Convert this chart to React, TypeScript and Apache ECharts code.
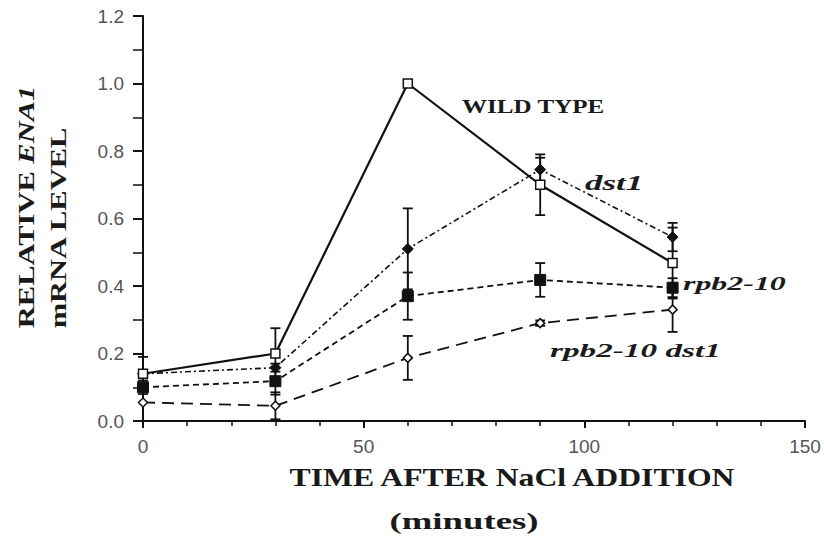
import React, { useEffect, useRef } from "react";
import * as echarts from "echarts";

const times = [0, 30, 60, 90, 120];
const wildType = [0.14, 0.2, 1.0, 0.7, 0.468];
const wildTypeErr = [0.05, 0.075, 0, 0.09, 0.105];
const dst1 = [0.14, 0.158, 0.51, 0.745, 0.545];
const dst1Err = [0.01, 0.012, 0.12, 0.035, 0.042];
const rpb210 = [0.1, 0.118, 0.37, 0.418, 0.395];
const rpb210Err = [0.02, 0.04, 0.07, 0.05, 0.028];
const rpb210dst1 = [0.055, 0.045, 0.187, 0.29, 0.33];
const rpb210dst1Err = [0.055, 0.04, 0.065, 0.008, 0.066];

const SERIF = "'Liberation Serif', 'Times New Roman', serif";
const SANS = "'Liberation Sans', Arial, sans-serif";

function errSeries(name: string, vals: number[], errs: number[]) {
  const data = times.map((t, i) => [t, vals[i] - errs[i], vals[i] + errs[i]]);
  return {
    name: name + " err",
    type: "custom",
    z: 1,
    silent: true,
    data: data.filter((d) => d[2] - d[1] > 0.0001),
    renderItem: (_params: any, api: any) => {
      const x = api.value(0);
      const lo = api.coord([x, api.value(1)]);
      const hi = api.coord([x, api.value(2)]);
      const w = 5;
      const st = { stroke: "#111", lineWidth: 1.8 };
      return {
        type: "group",
        children: [
          { type: "line", shape: { x1: lo[0], y1: lo[1], x2: hi[0], y2: hi[1] }, style: st },
          { type: "line", shape: { x1: lo[0] - w, y1: lo[1], x2: lo[0] + w, y2: lo[1] }, style: st },
          { type: "line", shape: { x1: hi[0] - w, y1: hi[1], x2: hi[0] + w, y2: hi[1] }, style: st },
        ],
      };
    },
  };
}

function lineSeries(name: string, vals: number[], dash: any, symbol: string, size: number, open: boolean, width: number) {
  return {
    name,
    type: "line",
    z: 3,
    data: times.map((t, i) => [t, vals[i]]),
    symbol,
    symbolSize: size,
    showSymbol: true,
    lineStyle: { color: "#111", width, type: dash },
    itemStyle: open
      ? { color: "#fff", borderColor: "#111", borderWidth: 1.5 }
      : { color: "#111", borderColor: "#111", borderWidth: 1 },
  };
}

function label(text: string, x: number, y: number, scaleX: number, font: string) {
  return {
    type: "text",
    x,
    y,
    scaleX,
    style: { text, font, fill: "#1a1a1a", textAlign: "left", textVerticalAlign: "middle" },
  };
}

export default function App() {
  const ref = useRef<HTMLDivElement>(null);
  useEffect(() => {
    document.body.style.margin = "0";
    const chart = echarts.init(ref.current!, null, { renderer: "svg" });
    chart.setOption({
      animation: false,
      backgroundColor: "#fff",
      grid: { left: 143, right: 19, top: 16, bottom: 115 },
      xAxis: {
        type: "value",
        min: 0,
        max: 150,
        interval: 50,
        axisLine: { show: true, onZero: false, lineStyle: { color: "#111", width: 2 } },
        axisTick: { show: true, length: 7, lineStyle: { color: "#111", width: 2 } },
        minorTick: { show: true, splitNumber: 5, length: 5, lineStyle: { color: "#111", width: 1.5 } },
        splitLine: { show: false },
        axisLabel: { color: "#555", fontFamily: SANS, fontSize: 19, margin: 16 },
      },
      yAxis: {
        type: "value",
        min: 0,
        max: 1.2,
        interval: 0.2,
        axisLine: { show: true, lineStyle: { color: "#111", width: 2 } },
        axisTick: { show: true, length: 10, lineStyle: { color: "#111", width: 2 } },
        minorTick: { show: true, splitNumber: 2, length: 10, lineStyle: { color: "#111", width: 1.5 } },
        splitLine: { show: false },
        axisLabel: {
          color: "#555",
          fontFamily: SANS,
          fontSize: 19,
          margin: 19,
          formatter: (v: number) => v.toFixed(1),
        },
      },
      series: [
        errSeries("WILD TYPE", wildType, wildTypeErr),
        errSeries("dst1", dst1, dst1Err),
        errSeries("rpb2-10", rpb210, rpb210Err),
        errSeries("rpb2-10 dst1", rpb210dst1, rpb210dst1Err),
        lineSeries("rpb2-10 dst1", rpb210dst1, [12, 7], "diamond", 9, true, 1.8),
        lineSeries("rpb2-10", rpb210, [6, 4], "rect", 11, false, 1.8),
        lineSeries("dst1", dst1, [6, 3, 2, 3], "diamond", 11, false, 1.6),
        lineSeries("WILD TYPE", wildType, "solid", "rect", 9, true, 2.2),
      ],
      graphic: [
        label("WILD TYPE", 462, 107, 1.32, `bold 19px ${SERIF}`),
        label("dst1", 585, 183, 1.75, `italic bold 20px ${SERIF}`),
        label("rpb2-10", 683, 284, 1.68, `italic bold 19px ${SERIF}`),
        label("rpb2-10 dst1", 550, 351, 1.75, `italic bold 19px ${SERIF}`),
        {
          type: "text",
          x: 26,
          y: 207,
          rotation: Math.PI / 2,
          scaleX: 1.27,
          style: {
            text: "{a|RELATIVE }{b|ENA1}",
            fill: "#1a1a1a",
            textAlign: "center",
            textVerticalAlign: "middle",
            rich: {
              a: { font: `bold 24px ${SERIF}`, fill: "#1a1a1a" },
              b: { font: `italic bold 24px ${SERIF}`, fill: "#1a1a1a" },
            },
          },
        },
        {
          type: "text",
          x: 58,
          y: 228,
          rotation: Math.PI / 2,
          scaleX: 1.27,
          style: {
            text: "mRNA LEVEL",
            font: `bold 24px ${SERIF}`,
            fill: "#1a1a1a",
            textAlign: "center",
            textVerticalAlign: "middle",
          },
        },
        {
          type: "text",
          x: 512,
          y: 477,
          scaleX: 1.22,
          style: {
            text: "TIME AFTER NaCl ADDITION",
            font: `bold 26px ${SERIF}`,
            fill: "#1a1a1a",
            textAlign: "center",
            textVerticalAlign: "middle",
          },
        },
        {
          type: "text",
          x: 464,
          y: 522,
          scaleX: 1.6,
          style: {
            text: "(minutes)",
            font: `bold 23px ${SERIF}`,
            fill: "#1a1a1a",
            textAlign: "center",
            textVerticalAlign: "middle",
          },
        },
      ],
    });
    return () => chart.dispose();
  }, []);
  return <div ref={ref} style={{ width: 824, height: 536 }} />;
}
